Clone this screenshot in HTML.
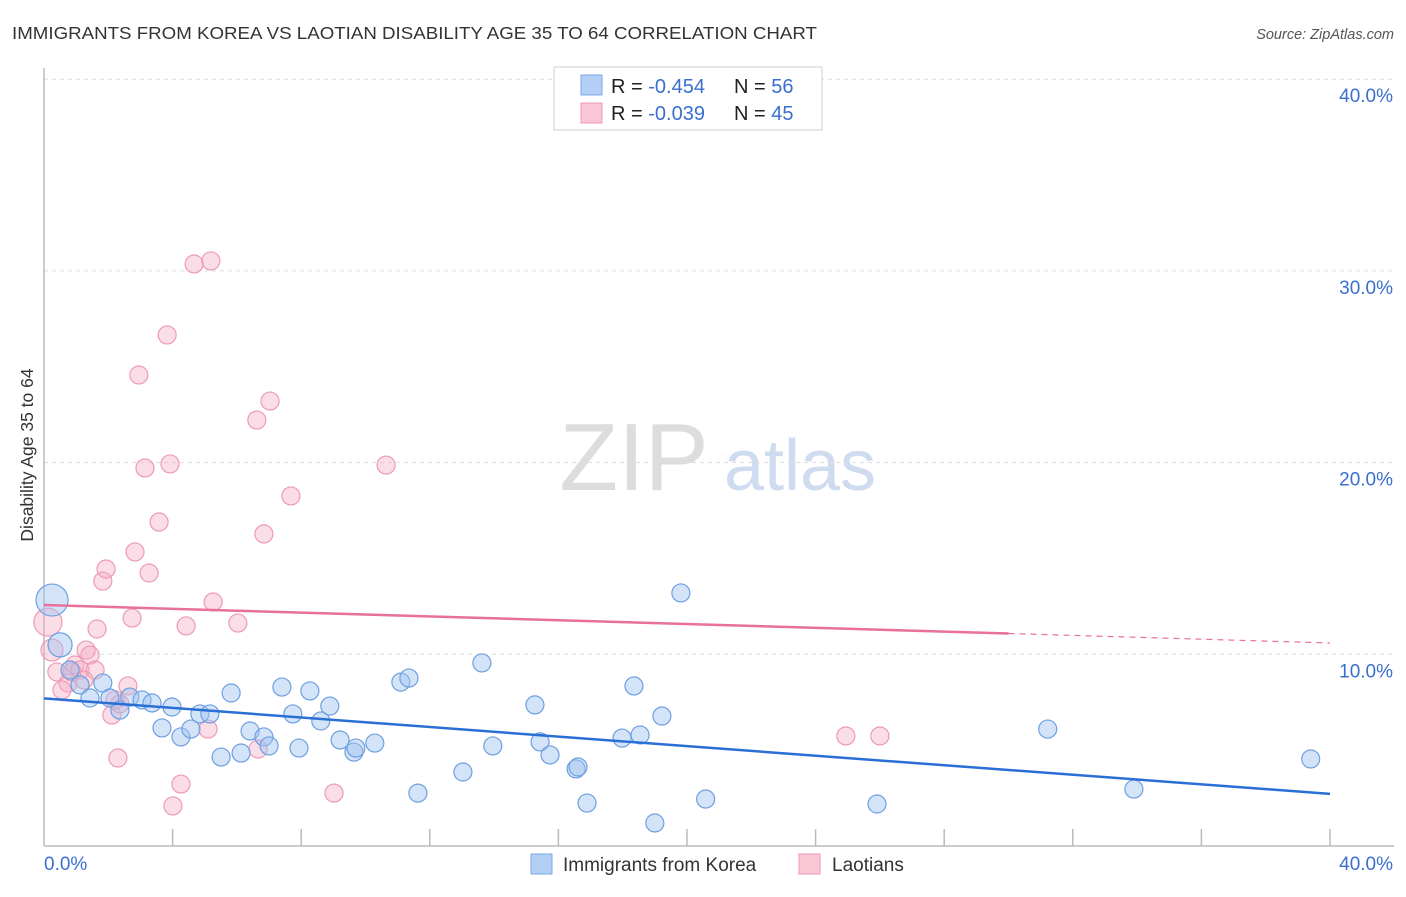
<!DOCTYPE html>
<html><head><meta charset="utf-8"><style>
body{margin:0;background:#fff;font-family:"Liberation Sans",sans-serif}
svg text{font-family:"Liberation Sans",sans-serif}
</style></head><body>
<svg id="chart" width="1406" height="892" xmlns="http://www.w3.org/2000/svg">
<text x="12" y="39" font-size="17.5" fill="#333" textLength="805" lengthAdjust="spacingAndGlyphs">IMMIGRANTS FROM KOREA VS LAOTIAN DISABILITY AGE 35 TO 64 CORRELATION CHART</text>
<text x="1394" y="39" font-size="14.5" fill="#555" font-style="italic" text-anchor="end">Source: ZipAtlas.com</text>
<g>
<text x="634" y="490" font-size="96" fill="#ddd" font-family="Liberation Serif" text-anchor="middle">ZIP</text>
<text x="800" y="490" font-size="72" fill="#cfdcf0" text-anchor="middle">atlas</text>
</g>
<g id="grid"></g>
<g id="axes"></g>
<g id="marks"></g>
<text transform="translate(33,455) rotate(-90)" font-size="17.5" fill="#333" text-anchor="middle">Disability Age 35 to 64</text>
<g>
<rect x="554" y="67" width="268" height="63" fill="#fff" stroke="#ccc"/>
<rect x="581" y="75" width="21" height="20" fill="#b3cff5" stroke="#7aa8e6"/>
<rect x="581" y="103" width="21" height="20" fill="#f9c6d5" stroke="#ee9ab4"/>
<text x="611" y="93" font-size="20" fill="#222">R = <tspan fill="#3a6fd0">-0.454</tspan></text>
<text x="734" y="93" font-size="20" fill="#222">N = <tspan fill="#3a6fd0">56</tspan></text>
<text x="611" y="120" font-size="20" fill="#222">R = <tspan fill="#3a6fd0">-0.039</tspan></text>
<text x="734" y="120" font-size="20" fill="#222">N = <tspan fill="#3a6fd0">45</tspan></text>
</g>
<g>
<rect x="531" y="854" width="21" height="20" fill="#b3cff5" stroke="#7aa8e6"/>
<text x="563" y="871" font-size="19" fill="#333">Immigrants from Korea</text>
<rect x="799" y="854" width="21" height="20" fill="#f9c6d5" stroke="#ee9ab4"/>
<text x="832" y="871" font-size="19" fill="#333">Laotians</text>
</g>
</svg>
<script>
const xTickLabels=["0.0%","40.0%"];
const yTicks=[10,20,30,40];
const yTickLabels=["10.0%","20.0%","30.0%","40.0%"];
const koreaX=[0.25,0.50,0.81,1.12,1.43,1.83,2.05,2.36,2.67,3.05,3.36,3.67,3.98,4.26,4.57,4.85,5.16,5.51,5.82,6.13,6.41,6.84,7.00,7.40,7.74,7.93,8.27,8.61,8.89,9.21,9.64,9.70,10.29,11.10,11.35,11.63,13.03,13.62,13.96,15.27,15.43,15.74,16.55,16.61,16.89,17.98,18.35,18.54,19.00,19.22,19.81,20.58,25.91,31.22,33.90,39.40];
const koreaY=[12.83,10.49,9.18,8.40,7.72,8.50,7.72,7.09,7.77,7.62,7.46,6.16,7.25,5.69,6.10,6.89,6.89,4.64,7.98,4.85,6.00,5.69,5.22,8.29,6.89,5.11,8.09,6.52,7.30,5.53,4.90,5.11,5.37,8.55,8.76,2.76,3.86,9.55,5.22,7.36,5.43,4.75,4.02,4.12,2.24,5.63,8.35,5.79,1.20,6.78,13.20,2.45,2.19,6.10,2.97,4.54];
const laoX=[0.12,0.25,0.40,0.75,0.87,0.96,1.12,1.31,1.43,1.65,1.83,1.93,2.11,2.30,2.36,2.61,2.74,2.83,2.95,3.14,3.27,3.58,3.83,3.92,4.01,4.26,4.42,4.67,5.10,5.19,5.26,6.03,6.62,6.66,6.84,7.03,7.68,9.02,10.64,24.94,26.00,0.56,1.59,2.21,1.24];
const laoY=[11.68,10.22,9.08,8.50,9.08,9.44,9.18,10.22,9.96,11.32,13.82,14.45,6.83,4.59,7.41,8.35,11.89,15.34,24.57,19.72,14.24,16.90,26.66,19.93,2.09,3.23,11.48,30.36,6.10,30.52,12.73,11.63,22.22,5.06,16.28,23.21,18.26,2.76,19.87,5.74,5.74,8.14,9.18,7.62,8.66];
const koreaTrend=[7.7,2.72];
const laoTrend=[12.57,10.59];
const laoSolidEnd=30;
const NS="http://www.w3.org/2000/svg";
const X0=44,X1=1330,Y0=846,PXY=19.17;
const sx=v=>X0+(v/40)*(X1-X0), sy=v=>Y0-v*PXY;
function mk(t,a,p){const e=document.createElementNS(NS,t);for(const k in a)e.setAttribute(k,a[k]);p.appendChild(e);return e;}
const grid=document.getElementById('grid'),axes=document.getElementById('axes'),marks=document.getElementById('marks');
yTicks.forEach((v,i)=>{
 const l=mk('line',{x1:X0,x2:1394,y1:sy(v),y2:sy(v),stroke:'#ddd','stroke-dasharray':'4,4'},grid);
 
 
 const t=mk('text',{x:1393,y:sy(v)+23,'font-size':19,fill:'#3a6fd0','text-anchor':'end'},axes);
 t.textContent=yTickLabels[i];
 
 
});
let a=mk('line',{x1:X0,x2:X0,y1:68,y2:Y0,stroke:'#bbb','stroke-width':1.5},axes);


a=mk('line',{x1:X0,x2:1394,y1:Y0,y2:Y0,stroke:'#bbb','stroke-width':1.5},axes);


for(let i=1;i<=10;i++){const tk=mk('line',{x1:sx(i*4),x2:sx(i*4),y1:829,y2:Y0,stroke:'#bbb','stroke-width':1.5},axes);
 
 }
let t=mk('text',{x:44,y:870,'font-size':19,fill:'#3a6fd0'},axes);t.textContent=xTickLabels[0];


t=mk('text',{x:1393,y:870,'font-size':19,fill:'#3a6fd0','text-anchor':'end'},axes);t.textContent=xTickLabels[1];


laoX.forEach((x,i)=>{const r=i==0?14:i==1?11:9;
 const c=mk('circle',{cx:sx(x),cy:sy(laoY[i]),r:r,fill:'rgba(246,170,195,0.4)',stroke:'#ee9ab4','stroke-width':1.2},marks);
 
 });
koreaX.forEach((x,i)=>{const r=i==0?16:i==1?12:9;
 const c=mk('circle',{cx:sx(x),cy:sy(koreaY[i]),r:r,fill:'rgba(160,195,240,0.45)',stroke:'#6d9fe0','stroke-width':1.2},marks);
 
 });
let ln=mk('line',{x1:sx(0),y1:sy(koreaTrend[0]),x2:sx(40),y2:sy(koreaTrend[1]),stroke:'#2a6fd6','stroke-width':2.5},marks);


const lv=x=>laoTrend[0]+(laoTrend[1]-laoTrend[0])*x/40;
ln=mk('line',{x1:sx(0),y1:sy(lv(0)),x2:sx(laoSolidEnd),y2:sy(lv(laoSolidEnd)),stroke:'#e8709a','stroke-width':2.5},marks);


ln=mk('line',{x1:sx(laoSolidEnd),y1:sy(lv(laoSolidEnd)),x2:sx(40),y2:sy(lv(40)),stroke:'#e8709a','stroke-width':1.2,'stroke-dasharray':'6,5'},marks);


</script>
</body></html>
